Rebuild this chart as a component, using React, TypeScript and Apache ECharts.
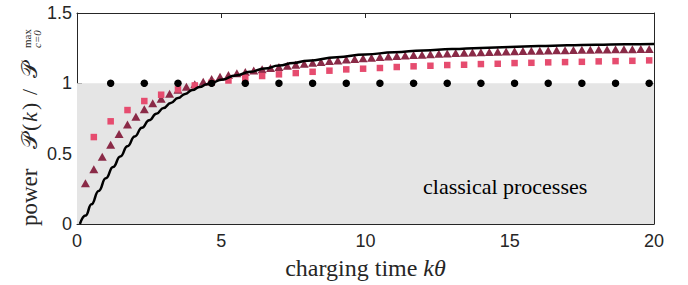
import React, { useEffect, useRef } from "react";
import * as echarts from "echarts";

const xTicks = [0, 5, 10, 15, 20];
const yTicks = [0, 0.5, 1, 1.5];

const dotX = [1.167, 2.333, 3.5, 4.667, 5.833, 7.0, 8.167, 9.333, 10.5, 11.667, 12.833, 14.0, 15.167, 16.333, 17.5, 18.667, 19.833];
const dotY = [1, 1, 1, 1, 1, 1, 1, 1, 1, 1, 1, 1, 1, 1, 1, 1, 1];

const squareX = [0.583, 1.167, 1.75, 2.333, 2.917, 3.5, 4.083, 4.667, 5.25, 5.833, 6.417, 7.0, 7.583, 8.167, 8.75, 9.333, 9.917, 10.5, 11.083, 11.667, 12.25, 12.833, 13.417, 14.0, 14.583, 15.167, 15.75, 16.333, 16.917, 17.5, 18.083, 18.667, 19.25, 19.833];
const squareY = [0.618, 0.73, 0.81, 0.874, 0.919, 0.957, 0.985, 1.005, 1.02, 1.037, 1.052, 1.064, 1.073, 1.082, 1.09, 1.099, 1.104, 1.109, 1.116, 1.121, 1.125, 1.13, 1.132, 1.137, 1.139, 1.144, 1.146, 1.149, 1.151, 1.153, 1.156, 1.158, 1.16, 1.163];

const triangleX = [0.292, 0.583, 0.875, 1.167, 1.458, 1.75, 2.042, 2.333, 2.625, 2.917, 3.208, 3.5, 3.792, 4.083, 4.375, 4.667, 4.958, 5.25, 5.542, 5.833, 6.125, 6.417, 6.708, 7.0, 7.292, 7.583, 7.875, 8.167, 8.458, 8.75, 9.042, 9.333, 9.625, 9.917, 10.208, 10.5, 10.792, 11.083, 11.375, 11.667, 11.958, 12.25, 12.542, 12.833, 13.125, 13.417, 13.708, 14.0, 14.292, 14.583, 14.875, 15.167, 15.458, 15.75, 16.042, 16.333, 16.625, 16.917, 17.208, 17.5, 17.792, 18.083, 18.375, 18.667, 18.958, 19.25, 19.542, 19.833];
const triangleY = [0.289, 0.389, 0.478, 0.564, 0.64, 0.708, 0.763, 0.815, 0.858, 0.891, 0.926, 0.955, 0.976, 0.993, 1.011, 1.031, 1.047, 1.059, 1.071, 1.081, 1.091, 1.1, 1.109, 1.117, 1.125, 1.132, 1.139, 1.146, 1.152, 1.158, 1.163, 1.169, 1.173, 1.178, 1.182, 1.187, 1.19, 1.194, 1.198, 1.201, 1.204, 1.207, 1.21, 1.212, 1.215, 1.217, 1.219, 1.221, 1.223, 1.225, 1.226, 1.228, 1.23, 1.231, 1.232, 1.234, 1.235, 1.236, 1.237, 1.238, 1.239, 1.24, 1.241, 1.242, 1.242, 1.243, 1.244, 1.244];

const curveX = [0.1, 0.3, 0.5, 0.75, 1.0, 1.25, 1.5, 1.75, 2.0, 2.25, 2.5, 2.75, 3.0, 3.25, 3.5, 3.75, 4.0, 4.25, 4.5, 4.75, 5.0, 5.5, 6.0, 6.5, 7.0, 7.5, 8.0, 9.0, 10.0, 11.0, 12.0, 13.0, 14.0, 15.0, 16.0, 17.0, 18.0, 19.0, 20.0];
const curveY = [0, 0.06, 0.14, 0.235, 0.325, 0.405, 0.48, 0.553, 0.622, 0.684, 0.738, 0.783, 0.825, 0.861, 0.895, 0.925, 0.952, 0.974, 0.993, 1.01, 1.026, 1.055, 1.082, 1.105, 1.126, 1.145, 1.161, 1.186, 1.205, 1.221, 1.234, 1.244, 1.252, 1.259, 1.265, 1.27, 1.274, 1.277, 1.279];

const classicalBound = [0, 1];
const regionLabel = "classical processes";

const AXIS = "#262626";
const SERIF = "'Liberation Serif', 'DejaVu Serif', serif";
const SANS = "'Liberation Sans', Arial, sans-serif";

export default function App() {
  const ref = useRef<HTMLDivElement>(null);
  useEffect(() => {
    if (!ref.current) return;
    const chart = echarts.init(ref.current, undefined, { renderer: "svg" });
    const pairs = (xs: number[], ys: number[]) => xs.map((x, i) => [x, ys[i]]);
    const axisCommon = {
      type: "value" as const,
      axisLine: { show: true, onZero: false, lineStyle: { color: AXIS, width: 1 } },
      axisTick: { show: true, inside: true, length: 5, lineStyle: { color: AXIS } },
      splitLine: { show: false },
    };
    const t = (x: number, y: number, text: string, font: string) => ({
      type: "text",
      x,
      y,
      style: { text, font, fill: AXIS, verticalAlign: "middle" },
    });
    const option: any = {
      animation: false,
      backgroundColor: "#ffffff",
      grid: { left: 77, right: 34, top: 13, bottom: 61, containLabel: false, outerBoundsMode: "none" },
      xAxis: [
        {
          ...axisCommon,
          position: "bottom",
          min: xTicks[0],
          max: xTicks[xTicks.length - 1],
          interval: 5,
          axisLabel: { color: AXIS, fontFamily: SANS, fontSize: 18, margin: 8 },
          name: "charging time {i|kθ}",
          nameLocation: "middle",
          nameGap: 32,
          nameTextStyle: {
            color: AXIS,
            fontFamily: SERIF,
            fontSize: 24,
            rich: { i: { fontFamily: SERIF, fontStyle: "italic", fontSize: 24, color: AXIS } },
          },
        },
        {
          ...axisCommon,
          position: "top",
          min: xTicks[0],
          max: xTicks[xTicks.length - 1],
          interval: 5,
          axisLabel: { show: false },
        },
      ],
      yAxis: [
        {
          ...axisCommon,
          position: "left",
          min: yTicks[0],
          max: yTicks[yTicks.length - 1],
          interval: 0.5,
          axisLabel: { color: AXIS, fontFamily: SANS, fontSize: 18, margin: 5 },
        },
        {
          ...axisCommon,
          position: "right",
          min: yTicks[0],
          max: yTicks[yTicks.length - 1],
          interval: 0.5,
          axisLabel: { show: false },
        },
      ],
      series: [
        {
          type: "line",
          data: [],
          markArea: {
            silent: true,
            itemStyle: { color: "#e5e5e5" },
            data: [[{ coord: [xTicks[0], classicalBound[0]] }, { coord: [xTicks[xTicks.length - 1], classicalBound[1]] }]],
          },
        },
        {
          type: "scatter",
          data: pairs(triangleX, triangleY),
          symbol: "triangle",
          symbolSize: [9, 8],
          itemStyle: { color: "#8a2a47", opacity: 1 },
        },
        {
          type: "line",
          data: pairs(curveX, curveY),
          smooth: true,
          smoothMonotone: "x",
          showSymbol: false,
          lineStyle: { color: "#000000", width: 2.5 },
        },
        {
          type: "scatter",
          data: pairs(squareX, squareY),
          symbol: "rect",
          symbolSize: 6.5,
          itemStyle: { color: "#e64c6f", opacity: 1 },
        },
        {
          type: "scatter",
          data: pairs(dotX, dotY),
          symbol: "circle",
          symbolSize: 7.5,
          itemStyle: { color: "#000000", opacity: 1 },
        },
      ],
      graphic: [
        {
          type: "text",
          left: 423,
          top: 175,
          z: 100,
          style: { text: regionLabel, font: `22px ${SERIF}`, fill: "#000000" },
        },
        {
          type: "group",
          x: 29,
          y: 226,
          rotation: Math.PI / 2,
          z: 100,
          children: [
            t(0, 0, "power", `23px ${SERIF}`),
            t(77, 0, "𝒫", `22px ${SERIF}`),
            t(95, 0, "(", `22px ${SERIF}`),
            t(104, 0, "k", `italic 22px ${SERIF}`),
            t(116, 0, ")", `22px ${SERIF}`),
            t(131, 0, "/", `22px ${SERIF}`),
            t(148, 0, "𝒫", `22px ${SERIF}`),
            t(178, -2, "max", `11px ${SERIF}`),
            t(178, 8, "c=0", `italic 11px ${SERIF}`),
          ],
        },
      ],
    };
    chart.setOption(option);
    return () => chart.dispose();
  }, []);
  return <div ref={ref} style={{ position: "fixed", left: 0, top: 0, width: 688, height: 285 }} />;
}
